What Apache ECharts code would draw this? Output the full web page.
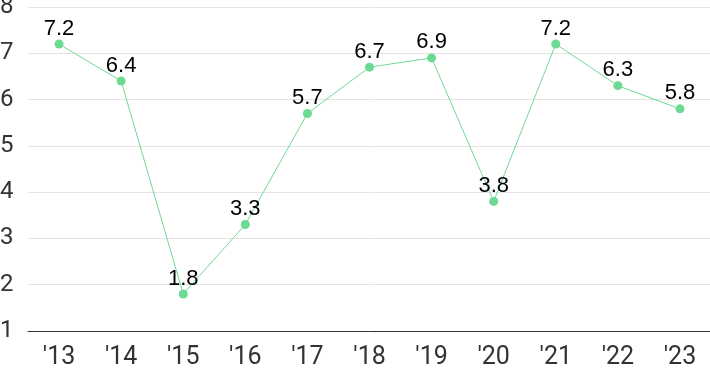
<!DOCTYPE html>
<html><head><meta charset="utf-8">
<script src="https://cdn.jsdelivr.net/npm/echarts@6/dist/echarts.min.js"></script>
<style>html,body{margin:0;padding:0;background:#fff}#c{width:710px;height:371px}</style>
</head><body><div id="c"></div>
<script>
const categories = ["'13","'14","'15","'16","'17","'18","'19","'20","'21","'22","'23"];
const values = [7.2, 6.4, 1.8, 3.3, 5.7, 6.7, 6.9, 3.8, 7.2, 6.3, 5.8];
const yTicks = [1, 2, 3, 4, 5, 6, 7, 8];
const chart = echarts.init(document.getElementById('c'));
chart.setOption({
  animation: false,
  grid: {left: 28, right: -1, top: 7, bottom: 40, outerBoundsMode: 'none', containLabel: false},
  xAxis: {
    type: 'category', data: categories, boundaryGap: true,
    axisLine: {lineStyle: {color: '#333', width: 1}},
    axisTick: {show: false},
    axisLabel: {color: '#333', fontSize: 25, fontFamily: 'Roboto', margin: 14}
  },
  yAxis: {
    type: 'value', min: yTicks[0], max: yTicks[yTicks.length - 1], interval: 1,
    axisLine: {show: false}, axisTick: {show: false},
    splitLine: {lineStyle: {color: '#e4e4e4'}},
    axisLabel: {color: '#333', fontSize: 24, fontFamily: 'Roboto', align: 'left', margin: 28}
  },
  series: [{
    type: 'line', data: values,
    symbol: 'circle', symbolSize: 9,
    lineStyle: {color: '#6cda93', width: 1},
    itemStyle: {color: '#6cda93'},
    label: {show: true, position: 'top', color: '#000', fontSize: 22, fontFamily: 'Liberation Sans', distance: 0}
  }]
});
</script></body></html>
